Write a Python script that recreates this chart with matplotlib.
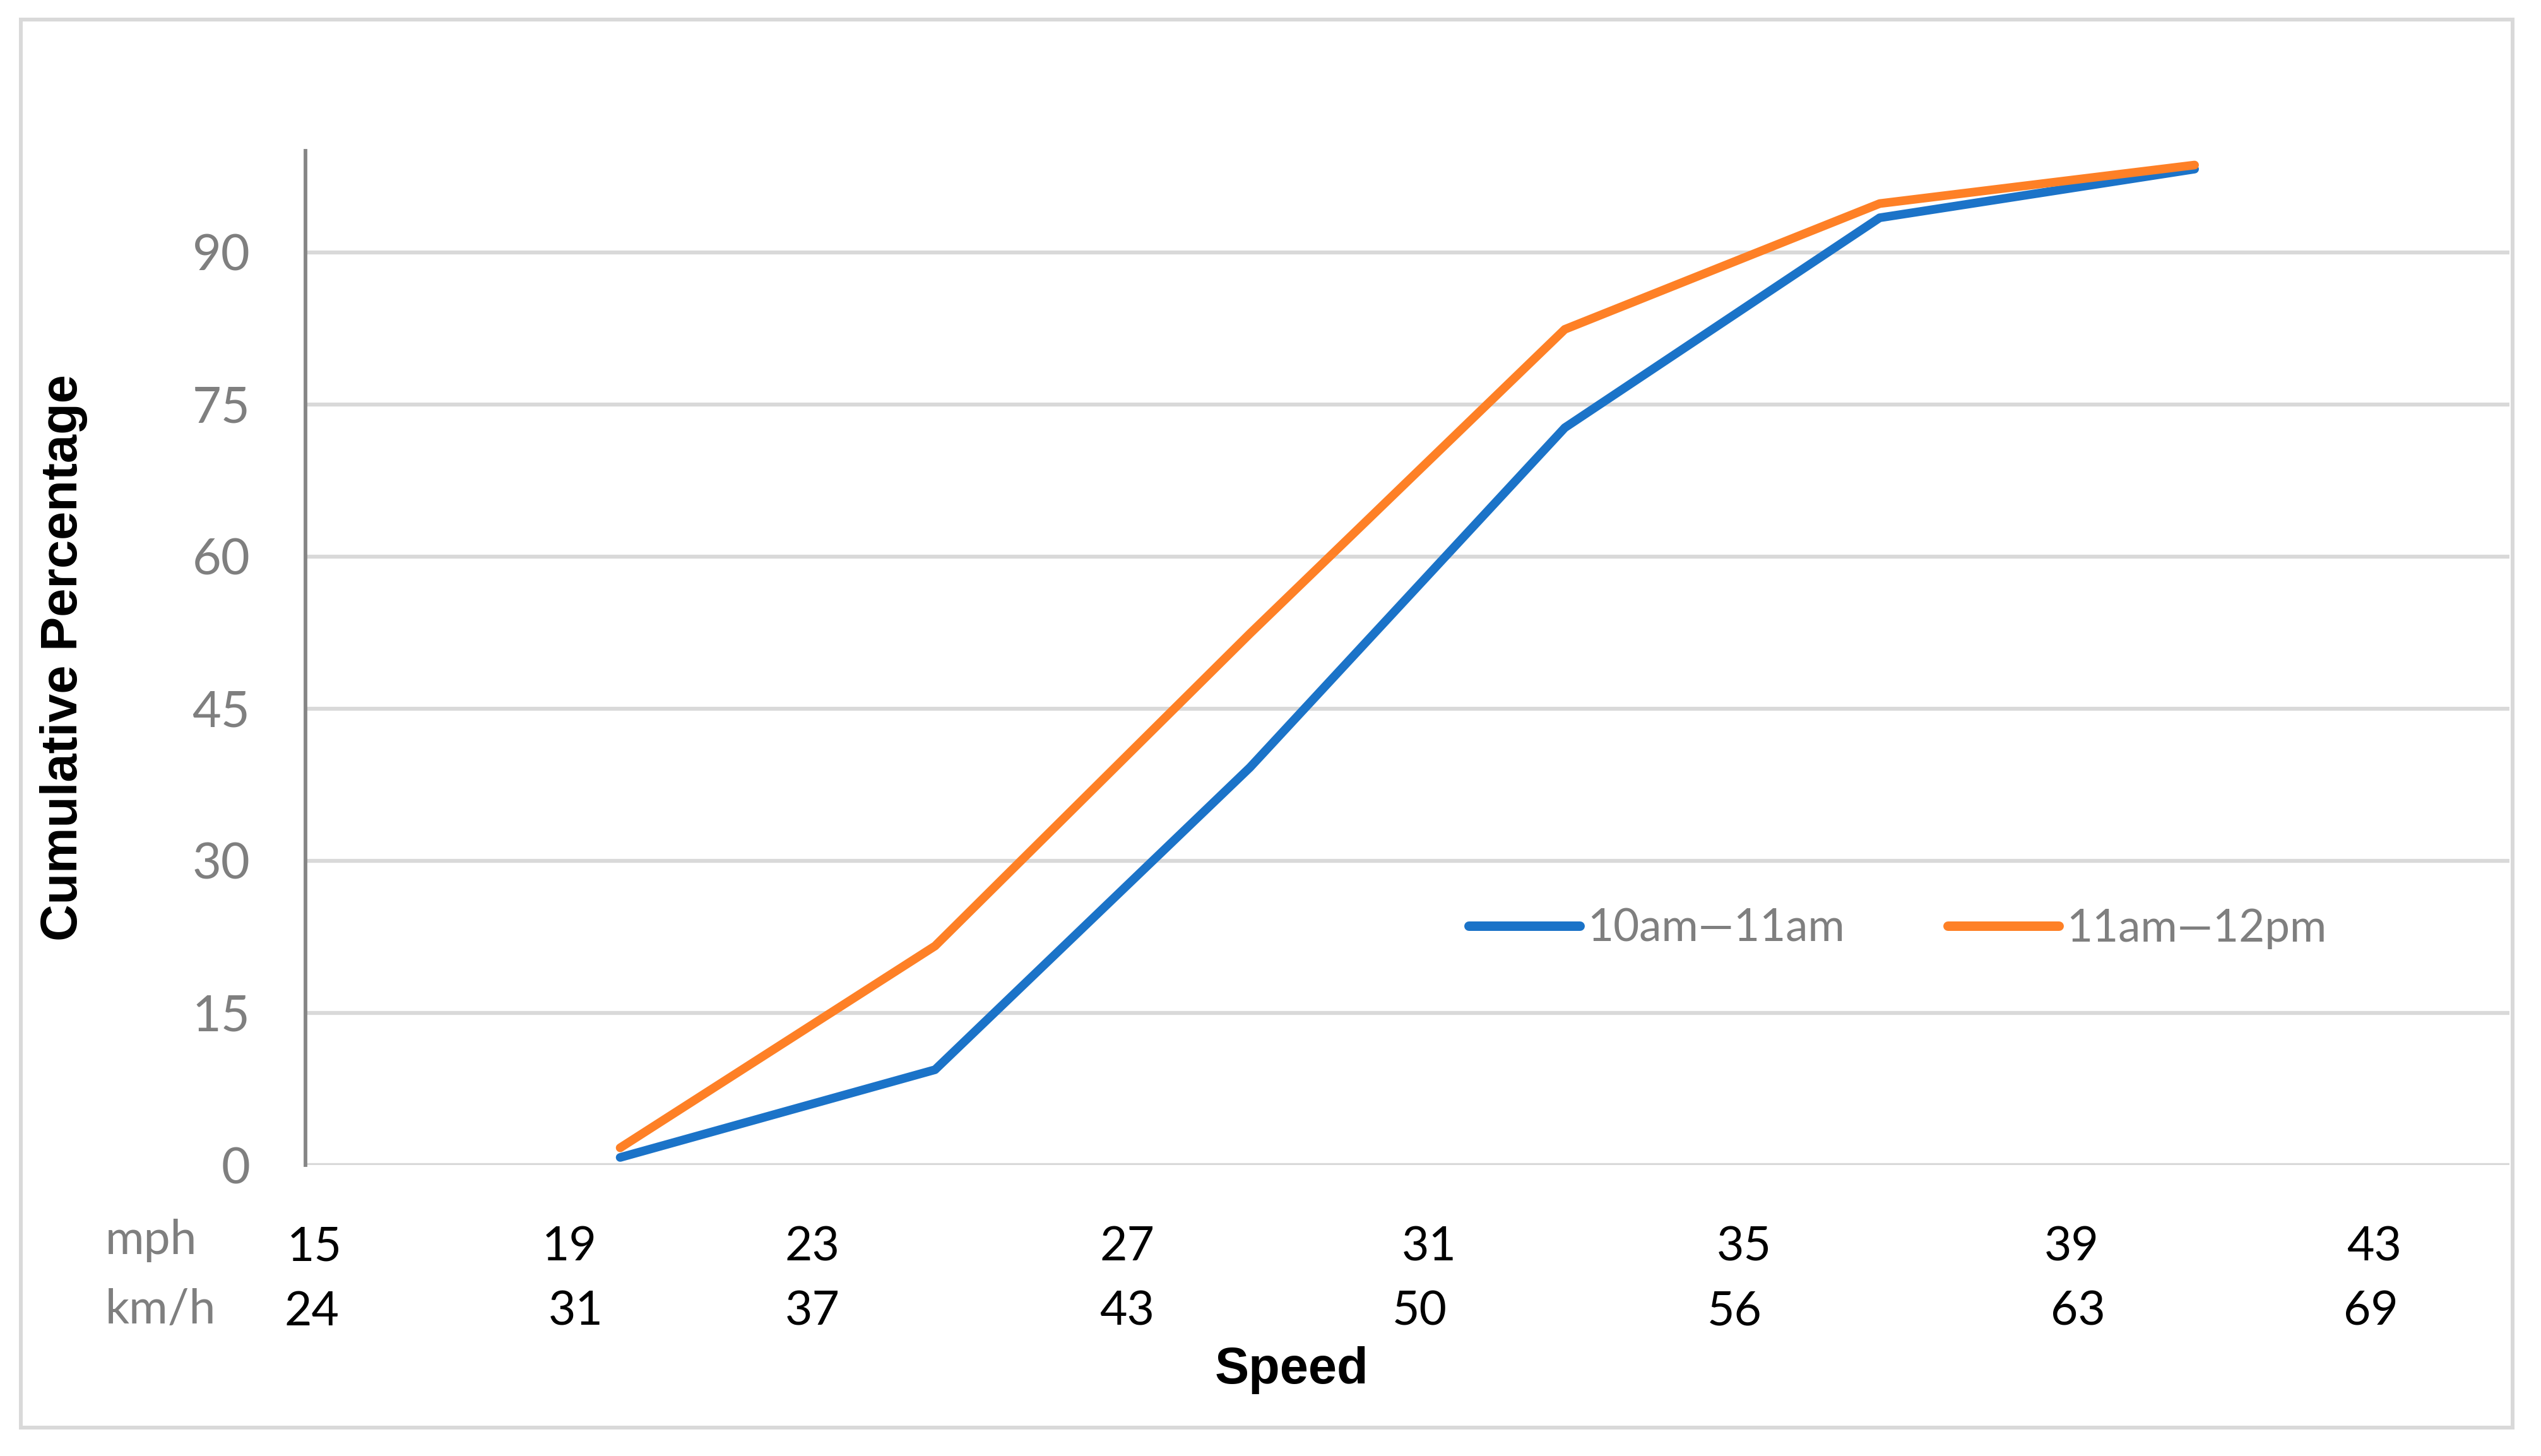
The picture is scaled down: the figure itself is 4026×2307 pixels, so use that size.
import numpy as np
import matplotlib
matplotlib.use("Agg")
import matplotlib.pyplot as plt
from matplotlib.patches import Rectangle

# data
series_names = ["10am\u201411am", "11am\u201412pm"]
blue_vals = [0.75, 9.4, 39.2, 72.7, 93.4, 98.2]
orange_vals = [1.7, 21.6, 52.4, 82.4, 94.8, 98.6]
mph_labels = ["15", "19", "23", "27", "31", "35", "39", "43"]
kmh_labels = ["24", "31", "37", "43", "50", "56", "63", "69"]
y_ticks = [0, 15, 30, 45, 60, 75, 90]

# where the speed labels sit along the category axis (category units)
mph_pos = [0.03, 0.84, 1.61, 2.61, 3.57, 4.57, 5.61, 6.57]
kmh_pos = [0.02, 0.86, 1.61, 2.61, 3.54, 4.54, 5.63, 6.56]

W, H = 4026, 2307
DPI = 300
BLUE = "#1b73c8"
ORANGE = "#fe8026"
GRAY_TXT = "#7f7f7f"
GRID = "#d9d9d9"

fig = plt.figure(figsize=(W / DPI, H / DPI), dpi=DPI)

def fx(px):
    return px / W

def fy(py):
    return 1 - py / H

# plot area in pixels
x0, x1 = 483.7, 3976
y_top, y_bot = 239, 1846
ax = fig.add_axes([fx(x0), fy(y_bot), fx(x1 - x0), (y_bot - y_top) / H])

xs = np.arange(1, len(blue_vals) + 1)
ax.plot(xs, blue_vals, color=BLUE, lw=3.3, solid_capstyle="round",
        solid_joinstyle="round", label=series_names[0], zorder=3)
ax.plot(xs, orange_vals, color=ORANGE, lw=3.3, solid_capstyle="round",
        solid_joinstyle="round", label=series_names[1], zorder=4)

ax.set_xlim(0, 7)
ax.set_ylim(0, 100)
ax.set_xticks([])
ax.set_yticks(y_ticks)
ax.set_yticklabels([str(v) for v in y_ticks], family="Lato", fontsize=19,
                   color=GRAY_TXT)
ax.tick_params(axis="y", length=0, pad=21)
for y in y_ticks:
    ax.axhline(y, color=GRID, lw=1.5, zorder=1)
for s in ["top", "right", "bottom"]:
    ax.spines[s].set_visible(False)
ax.spines["left"].set_color("#868686")
ax.spines["left"].set_linewidth(1.4)
ax.spines["left"].set_zorder(2)

# speed labels below the axis
tr = ax.get_xaxis_transform()
ax_h = y_bot - y_top
for p, lab in zip(mph_pos, mph_labels):
    ax.text(p, -(1997 - y_bot) / ax_h, lab, transform=tr, ha="center",
            va="baseline", family="Lato", fontsize=18, color="black")
for p, lab in zip(kmh_pos, kmh_labels):
    ax.text(p, -(2100 - y_bot) / ax_h, lab, transform=tr, ha="center",
            va="baseline", family="Lato", fontsize=18, color="black")

fig.text(fx(167), fy(1987), "mph", ha="left", va="baseline", family="Lato",
         fontsize=18, color=GRAY_TXT)
fig.text(fx(167), fy(2097), "km/h", ha="left", va="baseline", family="Lato",
         fontsize=18, color=GRAY_TXT)

fig.text(fx(2046), fy(2192), "Speed", ha="center", va="baseline",
         family="Liberation Sans", fontweight="bold", fontsize=19.5, color="black")
fig.text(fx(101), fy(1042), "Cumulative Percentage", ha="center", va="center",
         rotation=90, family="Liberation Sans", fontweight="bold", fontsize=19.5,
         color="black")

leg = ax.legend(loc="center left", bbox_to_anchor=(fx(2327), fy(1471)),
                bbox_transform=fig.transFigure, ncol=2, frameon=False,
                borderpad=0, borderaxespad=0, handlelength=2.48,
                handletextpad=0.18, columnspacing=2.3,
                prop={"family": "Lato", "size": 17})
for t in leg.get_texts():
    t.set_color(GRAY_TXT)
for h in leg.get_lines():
    h.set_linewidth(3.6)
    h.set_solid_capstyle("round")

# outer chart border
fig.patches.append(Rectangle((fx(32.5), fy(2262)), fx(3980.5 - 32.5),
                             (2262 - 31) / H, transform=fig.transFigure,
                             fill=False, edgecolor=GRID, lw=1.45))

fig.savefig("out.png", dpi=DPI)
